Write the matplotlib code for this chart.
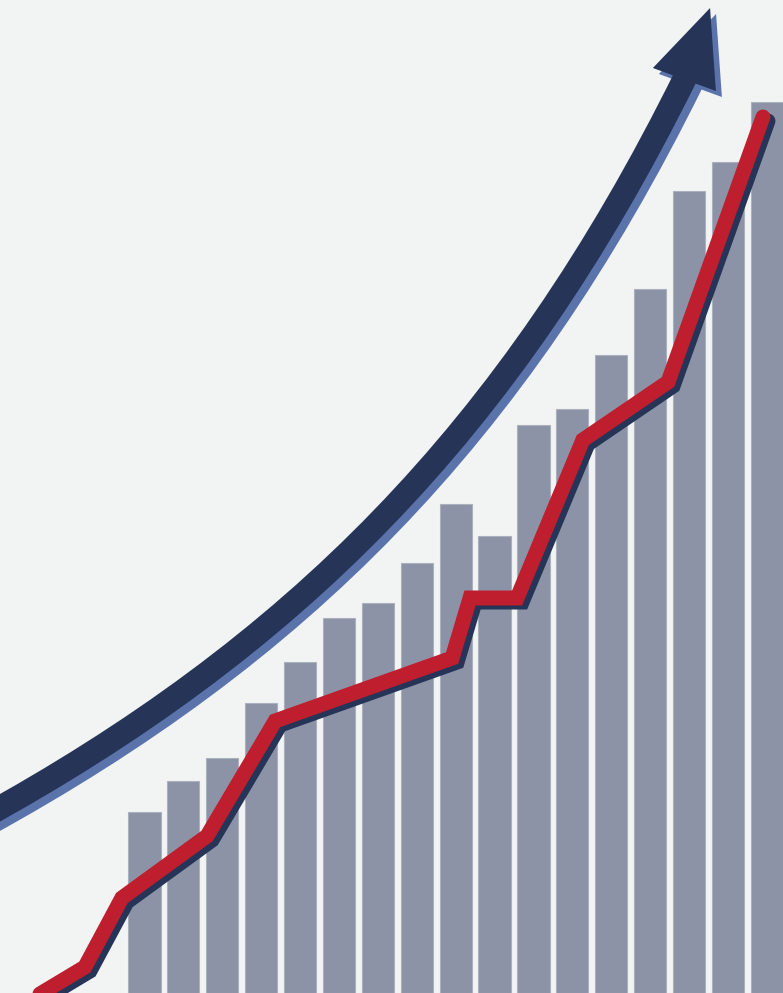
import matplotlib
matplotlib.use("Agg")
import matplotlib.pyplot as plt
import matplotlib.transforms as mtransforms
from matplotlib.path import Path
from matplotlib.patches import PathPatch, Polygon

# ---- data ----
bar_index = list(range(17))
bar_values = [181, 212, 235, 290, 331, 375, 390, 430, 489, 457,
              568, 584, 638, 704, 802, 831, 891]

line_x = [-3.20, -1.53, -0.58, 1.61, 3.36, 7.91, 8.37, 9.58, 11.27, 13.46, 15.90]
line_y = [-13, 26, 95, 157, 272, 335, 395, 395, 553, 611, 876]

# decorative trend arrow (bezier control points, in data units)
arrow_ctrl_x = [-4.23, 3.72, 9.35, 13.92]
arrow_ctrl_y = [174, 344, 557, 917]
head_x = [14.54, 13.07, 14.69]
head_y = [985, 925, 902]

# ---- style ----
BG = "#f2f4f3"
BAR = "#8c93a6"
BAR_EDGE = "#aab0bd"
RED = "#be1e2d"
NAVY = "#253457"
BLUE = "#5a74ab"

fig = plt.figure(figsize=(7.83, 9.93), dpi=100, facecolor=BG)
ax = fig.add_axes([0, 0, 1, 1])
ax.set_facecolor(BG)
ax.set_xlim(-3.713, 16.415)
ax.set_ylim(0, 993)
ax.axis("off")

ax.bar(bar_index, bar_values, width=0.83, bottom=0, color=BAR,
       edgecolor=BAR_EDGE, linewidth=0.8, zorder=1)

px = 72 / 100.0  # points per pixel


def shifted(dx_px, dy_px):
    return ax.transData + mtransforms.ScaledTranslation(
        dx_px / 100.0, -dy_px / 100.0, fig.dpi_scale_trans)


# red line with navy shadow
ax.plot(line_x, line_y, color=NAVY, lw=15 * px, solid_joinstyle="miter",
        solid_capstyle="round", transform=shifted(5, 4), zorder=3)
ax.plot(line_x, line_y, color=RED, lw=15 * px, solid_joinstyle="miter",
        solid_capstyle="round", zorder=4)

# arrow
verts = list(zip(arrow_ctrl_x, arrow_ctrl_y))
codes = [Path.MOVETO, Path.CURVE4, Path.CURVE4, Path.CURVE4]
arrow_path = Path(verts, codes)
head = list(zip(head_x, head_y))

ax.add_patch(PathPatch(arrow_path, fill=False, edgecolor=BLUE, lw=24 * px,
                       capstyle="butt", transform=shifted(6, 6), zorder=5))
ax.add_patch(Polygon(head, closed=True, facecolor=BLUE, edgecolor="none",
                     transform=shifted(6, 6), zorder=5))
ax.add_patch(PathPatch(arrow_path, fill=False, edgecolor=NAVY, lw=24 * px,
                       capstyle="butt", zorder=6))
ax.add_patch(Polygon(head, closed=True, facecolor=NAVY, edgecolor="none",
                     zorder=6))

fig.savefig("out.png", dpi=100, facecolor=BG)
